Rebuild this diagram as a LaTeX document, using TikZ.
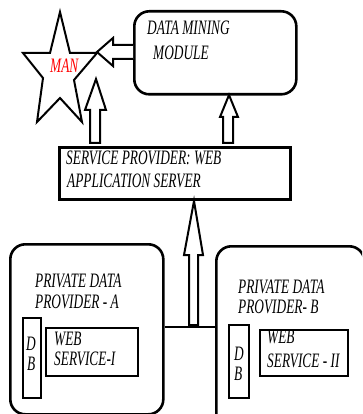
\documentclass[tikz,border=0pt]{standalone}
\usepackage{fontspec}
\setmainfont{Liberation Serif}[FakeStretch=0.65]
\begin{document}
\begin{tikzpicture}[x=1pt,y=-1pt,
  box/.style={draw, line width=2.6pt, inner sep=0pt, anchor=north west},
  rbox/.style={box, rounded corners=15pt},
  hollow/.style={draw, line width=2pt, fill=white, line join=miter},
  lbl/.style={anchor=base west, inner sep=0pt, font=\fontsize{20.5}{24}\selectfont\itshape},
  link/.style={line width=2pt}]
\useasboundingbox (0,0) rectangle (362,414);
\clip (0,0) rectangle (362,414);

% boxes
\node[rbox, minimum width=162pt, minimum height=83pt] (dmm) at (133,10) {};
\node[box, minimum width=231pt, minimum height=52pt] (sp) at (58,146) {};
\node[rbox, minimum width=153pt, minimum height=170pt] (pa) at (9,243) {};
\node[rbox, minimum width=148pt, minimum height=185pt] (pb) at (215,245) {};
\node[box, line width=2.4pt, minimum width=18pt, minimum height=80pt] (dba) at (22,317) {};
\node[box, line width=2.4pt, minimum width=92pt, minimum height=48pt] (wsa) at (45,327) {};
\node[box, line width=2.4pt, minimum width=20pt, minimum height=73pt] (dbb) at (228,324) {};
\node[box, line width=2.4pt, minimum width=88pt, minimum height=46pt] (wsb) at (259,329) {};

% star
\draw[line width=2pt, line join=miter] (60,12) -- (50,53) -- (23,53) -- (43,78) -- (37,122)
  -- (60,98) -- (82,122) -- (74,80) -- (97,53) -- (70,53) -- cycle;
\node[lbl, text=red] (man) at (50,73) {MAN};

% hollow arrows
\draw[hollow] (dmm.west |- 0,45) -- (113,45) -- (113,38) -- (97,52) -- (113,66) -- (113,59) -- (dmm.west |- 0,59);
\draw[hollow] (90,143) -- (90,110) -- (85,110) -- (96,79) -- (106,110) -- (100,110) -- (100,143) -- cycle;
\draw[hollow] (223,143) -- (223,117) -- (220,117) -- (229,95) -- (238,117) -- (233,117) -- (233,143) -- cycle;
\draw[hollow] (189,325) -- (189,255) -- (184,255) -- (194,201) -- (203,255) -- (198,255) -- (198,325) -- cycle;

% link between the two providers
\draw[link] (pa.east |- 0,327) -- (pb.west |- 0,327);

% labels
\node[lbl] (dm1) at (147,35) {DATA MINING};
\node[lbl] (dm2) at (153,60) {MODULE};
\node[lbl] (sp1) at (66,164) {SERVICE PROVIDER: WEB};
\node[lbl] (sp2) at (67,187) {APPLICATION SERVER};
\node[lbl] (pa1) at (35,287) {PRIVATE DATA};
\node[lbl] (pa2) at (35,308) {PROVIDER - A};
\node[lbl] (da1) at (26,350) {D};
\node[lbl] (da2) at (27,370) {B};
\node[lbl] (wa1) at (54,345) {WEB};
\node[lbl] (wa2) at (54,365) {SERVICE-I};
\node[lbl] (pb1) at (238,293) {PRIVATE DATA};
\node[lbl] (pb2) at (238,313) {PROVIDER- B};
\node[lbl] (db1) at (234,360) {D};
\node[lbl] (db2) at (234,380) {B};
\node[lbl] (wb1) at (267,343) {WEB};
\node[lbl] (wb2) at (267,367) {SERVICE - II};
\end{tikzpicture}
\end{document}
